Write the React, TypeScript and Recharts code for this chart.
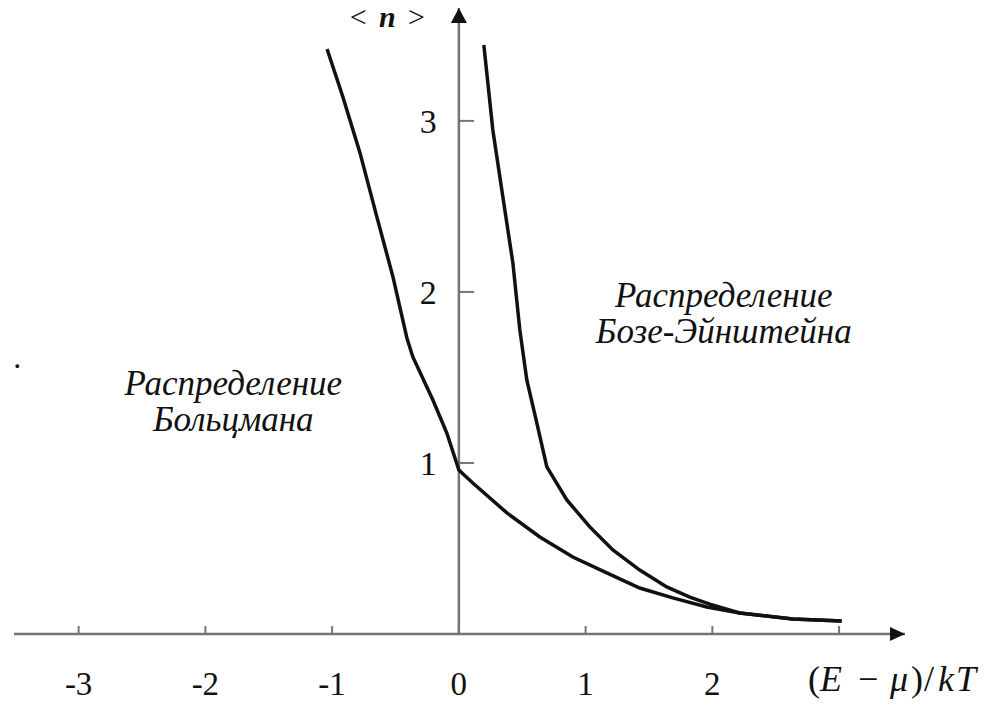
import { LineChart, Line, XAxis, YAxis, ReferenceLine, ReferenceDot } from "recharts";

const serif = '"Liberation Serif"';
const axisGray = "#747474";
const ink = "#111";

// Boltzmann curve <n> vs (E - mu)/kT, traced by hand
const boltzmannX = [-1.04, -0.915, -0.78, -0.647, -0.52, -0.41, -0.363, -0.205, -0.095, 0, 0.11, 0.379, 0.639, 0.899, 1.167, 1.427, 1.688, 1.956, 2.216, 2.634, 3.02];
const boltzmannY = [3.42, 3.14, 2.813, 2.439, 2.088, 1.731, 1.62, 1.368, 1.175, 0.959, 0.883, 0.708, 0.567, 0.45, 0.357, 0.269, 0.211, 0.158, 0.123, 0.088, 0.076];

// Bose-Einstein curve, meets the Boltzmann one near x = 2
const boseX = [0.197, 0.268, 0.347, 0.426, 0.481, 0.536, 0.615, 0.694, 0.852, 1.033, 1.215, 1.427, 1.64, 1.822, 1.979, 2.216, 2.634, 3.02];
const boseY = [3.444, 2.947, 2.556, 2.17, 1.778, 1.485, 1.234, 0.977, 0.784, 0.626, 0.491, 0.374, 0.275, 0.216, 0.175, 0.123, 0.088, 0.076];

const xTicks = [-3, -2, -1, 0, 1, 2, 3];
const yTicks = [1, 2, 3];
const xDomain = [-3.51, 3.52];
const yDomain = [0, 3.66];

const boltzmannCaption = ["Распределение", "Больцмана"];
const boseCaption = ["Распределение", "Бозе-Эйнштейна"];

const boltzmannData = boltzmannX.map((x, i) => ({ x, y: boltzmannY[i] }));
const boseData = boseX.map((x, i) => ({ x, y: boseY[i] }));

const txt = { fontFamily: serif };

// axis title pieces: [text, italic, offset from the start]
const titleParts: [string, boolean, number][] = [
  ["(", false, 0],
  ["E", true, 12],
  ["−", false, 50],
  ["μ", true, 82],
  [")", false, 103],
  ["/", false, 116],
  ["k", true, 130],
  ["T", true, 148],
];

function XTick(props: any) {
  const { x, y, payload } = props;
  const v = payload.value;
  return (
    <g>
      <line x1={x} x2={x} y1={y - 8} y2={y} stroke={axisGray} strokeWidth={2} />
      {v === xTicks[xTicks.length - 1] ? (
        // last tick carries the axis title instead of a number
        <text y={y + 57} fill={ink} fontSize={36} style={txt}>
          {titleParts.map(([s, it, dx]) => (
            <tspan key={s} x={x - 31 + dx} fontStyle={it ? "italic" : "normal"}>
              {s}
            </tspan>
          ))}
        </text>
      ) : (
        <text x={x} y={y + 61} textAnchor="middle" fill={ink} fontSize={33} style={txt}>
          {String(v)}
        </text>
      )}
    </g>
  );
}

function Caption({ cx, cy, lines }: { cx: number; cy: number; lines: string[] }) {
  return (
    <text x={cx} y={cy} textAnchor="middle" fill={ink} fontSize={35} fontStyle="italic" style={txt}>
      {lines.map((s, i) => (
        <tspan key={i} x={cx} dy={i === 0 ? 0 : 36}>
          {s}
        </tspan>
      ))}
    </text>
  );
}

export default function App() {
  return (
    <div style={{ position: "absolute", left: 0, top: 0, background: "#fff" }}>
      <LineChart width={992} height={710} margin={{ top: 8, right: 87, bottom: 0, left: 14 }}>
        <XAxis
          type="number"
          dataKey="x"
          domain={xDomain}
          ticks={xTicks}
          interval={0}
          allowDataOverflow
          height={76}
          axisLine={{ stroke: axisGray, strokeWidth: 2.5 }}
          tickLine={false}
          tickSize={0}
          tickMargin={0}
          tick={XTick}
        />
        <YAxis type="number" domain={yDomain} hide width={0} allowDataOverflow />

        {/* vertical axis through zero with its ticks */}
        <ReferenceLine x={0} stroke={axisGray} strokeWidth={2.5} ifOverflow="visible" />
        {yTicks.map((t) => (
          <ReferenceLine
            key={t}
            segment={[{ x: 0, y: t }, { x: 0.12, y: t }]}
            stroke={axisGray}
            strokeWidth={2}
            ifOverflow="visible"
            label={{ value: String(t), position: "left", offset: 22, fill: ink, fontSize: 34, style: txt }}
          />
        ))}

        {/* arrow heads */}
        <ReferenceDot
          x={xDomain[1]}
          y={0}
          ifOverflow="visible"
          shape={(p: any) => (
            <polygon points={`${p.cx},${p.cy} ${p.cx - 15},${p.cy - 7} ${p.cx - 15},${p.cy + 7}`} fill={ink} />
          )}
        />
        <ReferenceDot
          x={0}
          y={yDomain[1]}
          ifOverflow="visible"
          shape={(p: any) => (
            <g>
              <polygon points={`${p.cx},${p.cy} ${p.cx - 8},${p.cy + 15} ${p.cx + 8},${p.cy + 15}`} fill={ink} />
              <text x={p.cx - 109} y={p.cy + 19} fill={ink} fontSize={30} style={txt} textLength={75} lengthAdjust="spacing">
                <tspan>{"< "}</tspan>
                <tspan fontStyle="italic" fontWeight="bold">n</tspan>
                <tspan>{" >"}</tspan>
              </text>
            </g>
          )}
        />

        {/* captions */}
        <ReferenceDot
          x={-1.78}
          y={1.4}
          ifOverflow="visible"
          shape={(p: any) => <Caption cx={p.cx} cy={p.cy} lines={boltzmannCaption} />}
        />
        <ReferenceDot
          x={2.09}
          y={1.912}
          ifOverflow="visible"
          shape={(p: any) => <Caption cx={p.cx} cy={p.cy} lines={boseCaption} />}
        />
        <ReferenceDot
          x={-3.485}
          y={1.573}
          ifOverflow="visible"
          shape={(p: any) => (
            <text x={p.cx} y={p.cy + 3} textAnchor="middle" fill={ink} fontSize={32} style={txt}>
              .
            </text>
          )}
        />

        <Line data={boltzmannData} dataKey="y" type="linear" stroke={ink} strokeWidth={3.5} dot={false} isAnimationActive={false} />
        <Line data={boseData} dataKey="y" type="linear" stroke={ink} strokeWidth={3.5} dot={false} isAnimationActive={false} />
      </LineChart>
    </div>
  );
}
